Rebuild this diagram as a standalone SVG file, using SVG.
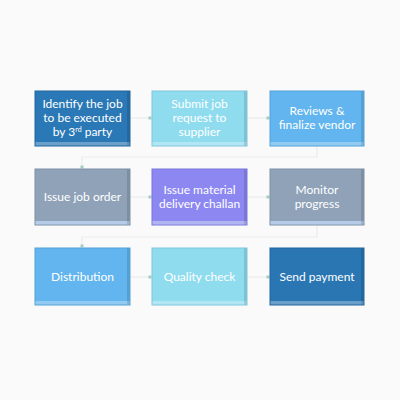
<svg xmlns="http://www.w3.org/2000/svg" width="400" height="400" viewBox="0 0 400 400">
<defs>
<marker id="dot" markerWidth="4" markerHeight="4" refX="2" refY="2" markerUnits="userSpaceOnUse">
<rect x="0.5" y="0.5" width="3" height="3" fill="#a6cdc3"/>
</marker>
<style>
.lbl{font-family:Lato,"Liberation Sans",sans-serif;font-size:12px;fill:#ffffff;text-anchor:middle}
.bevel{fill:#ffffff;fill-opacity:0.3}
.edge{fill:#000000;fill-opacity:0.12}
.conn{fill:none;stroke:#e9eded;stroke-width:1.2;marker-end:url(#dot)}
</style>
</defs>
<rect x="0" y="0" width="400" height="400" fill="#fafafa"/>
<g id="connectors">
<path class="conn" d="M130 118 H150"/>
<path class="conn" d="M247 118 H268"/>
<path class="conn" d="M317 146 V157 H82 V167"/>
<path class="conn" d="M130 197 H150"/>
<path class="conn" d="M247 197 H268"/>
<path class="conn" d="M317 225 V237 H82 V246"/>
<path class="conn" d="M130 277 H150"/>
<path class="conn" d="M247 277 H268"/>
</g>
<g id="n1">
<rect x="35" y="91" width="95" height="55" fill="#2a78b6" stroke="#22649c" stroke-width="1"/>
<rect class="bevel" x="35.5" y="142" width="94" height="3.5"/>
<rect class="edge" x="127" y="91.5" width="2.5" height="54"/>
<text class="lbl" x="82.5" y="108">Identify  the job</text>
<text class="lbl" x="82.5" y="122">to be executed</text>
<text class="lbl" x="82.5" y="136">by 3<tspan font-size="7" dy="-4">rd</tspan><tspan dy="4"> party</tspan></text>
</g>
<g id="n2">
<rect x="152" y="91" width="95" height="55" fill="#90dcef" stroke="#7cc6da" stroke-width="1"/>
<rect class="bevel" x="152.5" y="142" width="94" height="3.5"/>
<rect class="edge" x="244" y="91.5" width="2.5" height="54"/>
<text class="lbl" x="199.5" y="108">Submit job</text>
<text class="lbl" x="199.5" y="122">request to</text>
<text class="lbl" x="199.5" y="136">supplier</text>
</g>
<g id="n3">
<rect x="270" y="91" width="94" height="55" fill="#62b5ee" stroke="#52a2d8" stroke-width="1"/>
<rect class="bevel" x="270.5" y="142" width="93" height="3.5"/>
<rect class="edge" x="361" y="91.5" width="2.5" height="54"/>
<text class="lbl" x="317" y="115">Reviews &amp;</text>
<text class="lbl" x="317" y="129">finalize vendor</text>
</g>
<g id="n4">
<rect x="35" y="169" width="95" height="56" fill="#8fa2b8" stroke="#7d90a6" stroke-width="1"/>
<rect x="35.5" y="221" width="94" height="3.5" fill="#b4cce8"/>
<rect class="edge" x="127" y="169.5" width="2.5" height="55"/>
<text class="lbl" x="82.5" y="201">Issue job order</text>
</g>
<g id="n5">
<rect x="152" y="169" width="95" height="56" fill="#8c87f1" stroke="#7a75dc" stroke-width="1"/>
<rect x="152.5" y="221" width="94" height="3.5" fill="#b0b6f2"/>
<rect class="edge" x="244" y="169.5" width="2.5" height="55"/>
<text class="lbl" x="199.5" y="194">Issue material</text>
<text class="lbl" x="199.5" y="208">delivery challan</text>
</g>
<g id="n6">
<rect x="270" y="169" width="94" height="56" fill="#8fa2b8" stroke="#7d90a6" stroke-width="1"/>
<rect x="270.5" y="221" width="93" height="3.5" fill="#b4cce8"/>
<rect class="edge" x="361" y="169.5" width="2.5" height="55"/>
<text class="lbl" x="317" y="194">Monitor</text>
<text class="lbl" x="317" y="208">progress</text>
</g>
<g id="n7">
<rect x="35" y="248" width="95" height="57" fill="#62b5ee" stroke="#52a2d8" stroke-width="1"/>
<rect class="bevel" x="35.5" y="301" width="94" height="3.5"/>
<rect class="edge" x="127" y="248.5" width="2.5" height="56"/>
<text class="lbl" x="82.5" y="281">Distribution</text>
</g>
<g id="n8">
<rect x="152" y="248" width="95" height="57" fill="#90dcef" stroke="#7cc6da" stroke-width="1"/>
<rect class="bevel" x="152.5" y="301" width="94" height="3.5"/>
<rect class="edge" x="244" y="248.5" width="2.5" height="56"/>
<text class="lbl" x="199.5" y="281">Quality check</text>
</g>
<g id="n9">
<rect x="270" y="248" width="94" height="57" fill="#2a76b3" stroke="#22649c" stroke-width="1"/>
<rect class="bevel" x="270.5" y="301" width="93" height="3.5"/>
<rect class="edge" x="361" y="248.5" width="2.5" height="56"/>
<text class="lbl" x="317" y="281">Send payment</text>
</g>
</svg>
